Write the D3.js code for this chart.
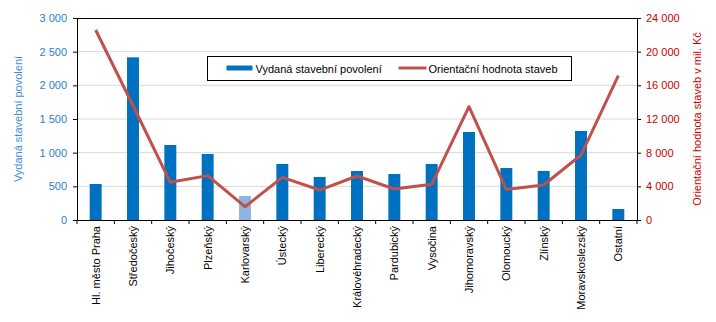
<!DOCTYPE html>
<html>
<head>
<meta charset="utf-8">
<script src="https://cdn.jsdelivr.net/npm/d3@7"></script>
<style>
  body { margin: 0; background: #fff; }
  text { font-family: "Liberation Sans", Arial, sans-serif; }
</style>
</head>
<body>
<svg id="chart"></svg>
<script>
// data
const regions = ["Hl. město Praha", "Středočeský", "Jihočeský", "Plzeňský", "Karlovarský",
  "Ústecký", "Liberecký", "Královéhradecký", "Pardubický", "Vysočina", "Jihomoravský",
  "Olomoucký", "Zlínský", "Moravskoslezský", "Ostatní"];
const permits = [535, 2416, 1114, 980, 356, 832, 639, 728, 683, 832, 1307, 772, 728, 1322, 163];
const values = [22570, 13600, 4480, 5270, 1580, 5070, 3560, 5230, 3680, 4240, 13460, 3640, 4160, 7720, 17150];
const leftTicks = [0, 500, 1000, 1500, 2000, 2500, 3000];
const rightTicks = [0, 4000, 8000, 12000, 16000, 20000, 24000];
const highlighted = "Karlovarský";

const W = 716, H = 322;
const margin = {top: 18, right: 79, bottom: 102, left: 77},
      width = W - margin.left - margin.right,
      height = H - margin.top - margin.bottom;

const fmt = v => d3.format(",")(v).replace(/,/g, " ");

const svg = d3.select("#chart").attr("width", W).attr("height", H);
const g = svg.append("g").attr("transform", `translate(${margin.left},${margin.top})`);

const x = d3.scaleBand().domain(regions).range([0, width]).paddingInner(0.68).paddingOuter(0.34);
const xBand = d3.scaleBand().domain(regions).range([0, width]);
const yL = d3.scaleLinear().domain([0, 3000]).range([height, 0]);
const yR = d3.scaleLinear().domain([0, 24000]).range([height, 0]);

// gridlines
g.selectAll(".grid").data(leftTicks.slice(1, -1)).enter().append("line")
  .attr("x1", 0).attr("x2", width)
  .attr("y1", d => yL(d)).attr("y2", d => yL(d))
  .attr("stroke", "#d9d9d9").attr("stroke-width", 1);

// bars
g.selectAll(".bar").data(regions).enter().append("rect")
  .attr("x", d => x(d))
  .attr("y", (d, i) => yL(permits[i]))
  .attr("width", x.bandwidth())
  .attr("height", (d, i) => height - yL(permits[i]))
  .attr("fill", d => d === highlighted ? "#8db4e2" : "#0070c0");

// line
g.append("path")
  .datum(values)
  .attr("fill", "none")
  .attr("stroke", "#c0504d")
  .attr("stroke-width", 3)
  .attr("stroke-linejoin", "round")
  .attr("d", d3.line()
    .x((d, i) => xBand(regions[i]) + xBand.bandwidth() / 2)
    .y(d => yR(d)));

// top border
g.append("line").attr("x1", 0).attr("x2", width).attr("y1", 0.5).attr("y2", 0.5)
  .attr("stroke", "#000");

// left axis
const axL = g.append("g")
  .call(d3.axisLeft(yL).tickValues(leftTicks).tickFormat(fmt).tickSize(4).tickPadding(6));
axL.select(".domain").attr("stroke", "#000");
axL.selectAll("text").attr("fill", "#1f7fd4").style("font-size", "11px");

// right axis
const axR = g.append("g").attr("transform", `translate(${width},0)`)
  .call(d3.axisRight(yR).tickValues(rightTicks).tickFormat(fmt).tickSize(4).tickPadding(5));
axR.selectAll("text").attr("fill", "#cc0000").style("font-size", "11px");

// bottom axis
const axB = g.append("g").attr("transform", `translate(0,${height})`)
  .call(d3.axisBottom(xBand).tickSize(0).tickSizeOuter(0));
axB.selectAll(".tick line").remove();
axB.selectAll(".sep").data(d3.range(regions.length + 1)).enter().append("line")
  .attr("x1", i => i * xBand.step()).attr("x2", i => i * xBand.step())
  .attr("y1", 0).attr("y2", 4).attr("stroke", "#000");
axB.selectAll(".tick text")
  .attr("fill", "#000")
  .style("font-size", "11px")
  .attr("text-anchor", "end")
  .attr("dy", "0.35em")
  .attr("transform", "translate(0,6) rotate(-90)")
  .attr("x", 0).attr("y", 0);

// axis titles
svg.append("text")
  .attr("transform", `translate(22,${margin.top + height / 2}) rotate(-90)`)
  .attr("text-anchor", "middle")
  .attr("fill", "#3a8fd8")
  .style("font-size", "11px")
  .text("Vydaná stavební povolení");

svg.append("text")
  .attr("transform", `translate(701,${margin.top + height / 2}) rotate(-90)`)
  .attr("text-anchor", "middle")
  .attr("fill", "#cc0000")
  .style("font-size", "11px")
  .text("Orientační hodnota staveb v mil. Kč");

// legend
const legend = svg.append("g").attr("transform", "translate(207.5,56.5)");
legend.append("rect").attr("width", 364).attr("height", 24)
  .attr("fill", "#fff").attr("stroke", "#000");
legend.append("rect").attr("x", 19).attr("y", 9).attr("width", 26).attr("height", 5)
  .attr("fill", "#0070c0");
legend.append("text").attr("x", 48).attr("y", 16).style("font-size", "11px")
  .text("Vydaná stavební povolení");
legend.append("line").attr("x1", 191).attr("x2", 219).attr("y1", 11.5).attr("y2", 11.5)
  .attr("stroke", "#c0504d").attr("stroke-width", 3);
legend.append("text").attr("x", 221).attr("y", 16).style("font-size", "11px")
  .text("Orientační hodnota staveb");
</script>
</body>
</html>
